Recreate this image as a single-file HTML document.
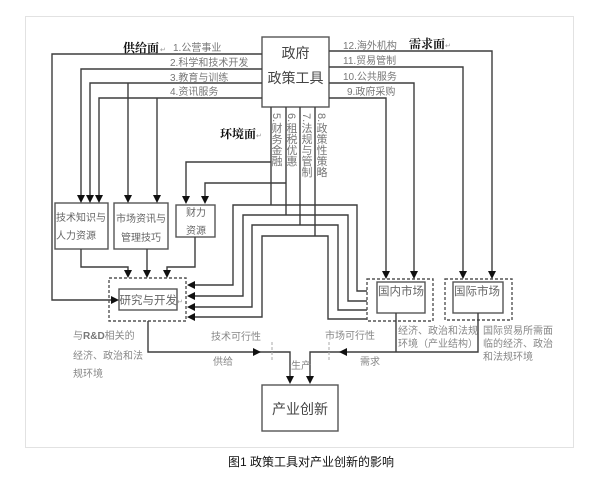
<!DOCTYPE html>
<html><head><meta charset="utf-8">
<style>
html,body{margin:0;padding:0;background:#fff;}
#wrap{position:relative;width:602px;height:489px;overflow:hidden;background:#fff;}
svg{position:absolute;left:0;top:0;}
.v{position:absolute;writing-mode:vertical-rl;font-family:"Liberation Sans","Noto Sans CJK SC",sans-serif;font-size:11px;line-height:11px;color:#777;white-space:nowrap;}
</style></head>
<body><div id="wrap">
<svg width="602" height="489" viewBox="0 0 602 489" xmlns="http://www.w3.org/2000/svg" font-family="Liberation Sans, Noto Sans CJK SC, sans-serif">
<rect x="25.5" y="16.5" width="548" height="431" fill="none" stroke="#e2e2e2" stroke-width="1"/>

<g fill="none" stroke="#3d3d3d" stroke-width="1.4">
<!-- government box -->
<rect x="262" y="37" width="67" height="70" stroke="#555"/>
<!-- supply lines -->
<polyline points="262,54 52,54 52,300 112,300"/>
<polyline points="262,69 81,69 81,196"/>
<polyline points="262,83 90,83 90,196"/>
<polyline points="262,98 99,98 99,196"/>
<line x1="128" y1="83" x2="128" y2="196"/>
<line x1="157" y1="98" x2="157" y2="196"/>
<!-- demand lines -->
<polyline points="329,51 492,51 492,272"/>
<polyline points="329,67 463,67 463,272"/>
<polyline points="329,83 414,83 414,272"/>
<polyline points="329,98 386,98 386,272"/>
<!-- environment lines -->
<line x1="271" y1="107" x2="271" y2="205"/>
<line x1="286" y1="107" x2="286" y2="215"/>
<line x1="300" y1="107" x2="300" y2="225"/>
<line x1="315" y1="107" x2="315" y2="236"/>
<polyline points="271,162 186,162 186,197"/>
<polyline points="286,183 205,183 205,197"/>
<polyline points="194,285 233,285 233,205 357,205 357,291 367,291"/>
<polyline points="194,296 243,296 243,215 348,215 348,301 367,301"/>
<polyline points="194,307 252,307 252,225 338,225 338,310 367,310"/>
<polyline points="194,317 262,317 262,236 328,236 328,319 367,319"/>
<!-- boxes -->
<rect x="55" y="203" width="53" height="46" stroke="#555"/>
<rect x="114" y="203" width="54" height="46" stroke="#555"/>
<rect x="176" y="205" width="39" height="32" stroke="#555"/>
<!-- boxes to R&D -->
<polyline points="81,249 81,267 128,267 128,271"/>
<line x1="147" y1="249" x2="147" y2="271"/>
<polyline points="195,237 195,267 167,267 167,271"/>
<!-- R&D -->
<rect x="109" y="278" width="77" height="43" stroke="#555" stroke-dasharray="3,2"/>
<rect x="119" y="289" width="58" height="21" stroke="#555"/>
<!-- markets -->
<rect x="367" y="279" width="66" height="42" stroke="#555" stroke-dasharray="3,2"/>
<rect x="377" y="282" width="48" height="31" stroke="#555"/>
<rect x="445" y="279" width="67" height="41" stroke="#555" stroke-dasharray="3,2"/>
<rect x="453" y="282" width="50" height="31" stroke="#555"/>
<!-- bottom flows -->
<polyline points="148,321 148,352 290,352 290,377"/>
<polyline points="396,313 396,352"/>
<polyline points="478,313 478,352 310,352 310,377"/>
<!-- innovation box -->
<rect x="262" y="385" width="76" height="46" stroke="#555"/>
</g>
<g stroke="#aaa" stroke-width="1" stroke-dasharray="3,2">
<line x1="272" y1="342" x2="272" y2="362"/>
<line x1="329" y1="342" x2="329" y2="362"/>
</g>

<!-- arrowheads -->
<g fill="#111">
<polygon points="77,195 85,195 81,203"/>
<polygon points="86,195 94,195 90,203"/>
<polygon points="95,195 103,195 99,203"/>
<polygon points="124,195 132,195 128,203"/>
<polygon points="153,195 161,195 157,203"/>
<polygon points="182,196 190,196 186,204"/>
<polygon points="201,196 209,196 205,204"/>
<polygon points="124,270 132,270 128,278"/>
<polygon points="143,270 151,270 147,278"/>
<polygon points="163,270 171,270 167,278"/>
<polygon points="382,271 390,271 386,279"/>
<polygon points="410,271 418,271 414,279"/>
<polygon points="459,271 467,271 463,279"/>
<polygon points="488,271 496,271 492,279"/>
<polygon points="286,376 294,376 290,384"/>
<polygon points="306,376 314,376 310,384"/>
<polygon points="195,281 195,289 187,285"/>
<polygon points="195,292 195,300 187,296"/>
<polygon points="195,303 195,311 187,307"/>
<polygon points="195,313 195,321 187,317"/>
<polygon points="111,296 111,304 119,300"/>
<polygon points="253,348 253,356 261,352"/>
<polygon points="347,348 347,356 339,352"/>
</g>

<!-- government text -->
<g fill="#444" font-size="14" text-anchor="middle">
<text x="295.5" y="58">政府</text>
<text x="295.5" y="83">政策工具</text>
</g>

<!-- headings -->
<g font-family="Liberation Serif, Noto Serif CJK SC, serif" font-weight="bold" font-size="12" fill="#111">
<text x="123" y="52">供给面</text>
<text x="409" y="48">需求面</text>
<text x="220" y="138">环境面</text>
</g>
<g font-size="7" fill="#999">
<text x="160" y="52">↵</text>
<text x="445" y="48">↵</text>
<text x="256" y="138">↵</text>
<text x="177" y="304">↵</text>
</g>

<!-- policy labels -->
<g font-size="10" fill="#777">
<text x="173" y="51">1.公营事业</text>
<text x="170" y="66">2.科学和技术开发</text>
<text x="170" y="81">3.教育与训练</text>
<text x="170" y="95">4.资讯服务</text>
<text x="343" y="49">12.海外机构</text>
<text x="343" y="64">11.贸易管制</text>
<text x="343" y="80">10.公共服务</text>
<text x="347" y="95">9.政府采购</text>
</g>

<!-- box texts -->
<g font-size="10" fill="#666">
<text x="56" y="221">技术知识与</text>
<text x="56" y="239">人力资源</text>
<text x="141" y="222" text-anchor="middle">市场资讯与</text>
<text x="141" y="241" text-anchor="middle">管理技巧</text>
<text x="196" y="216" text-anchor="middle">财力</text>
<text x="196" y="234" text-anchor="middle">资源</text>
</g>
<g font-size="11.5" fill="#666">
<text x="119.5" y="304">研究与开发</text>
<text x="378" y="295">国内市场</text>
<text x="454" y="295">国际市场</text>
</g>
<text x="300" y="414" text-anchor="middle" font-size="14" fill="#444">产业创新</text>

<!-- bottom labels -->
<g font-size="10" fill="#888">
<text x="73" y="339">与<tspan font-weight="bold" fill="#777">R&amp;D</tspan>相关的</text>
<text x="73" y="359">经济、政治和法</text>
<text x="73" y="377">规环境</text>
<text x="211" y="340">技术可行性</text>
<text x="213" y="365">供给</text>
<text x="291" y="369">生产</text>
<text x="325" y="339">市场可行性</text>
<text x="360" y="365">需求</text>
<text x="398" y="334">经济、政治和法规</text>
<text x="398" y="347">环境（产业结构）</text>
<text x="483" y="334">国际贸易所需面</text>
<text x="483" y="347">临的经济、政治</text>
<text x="483" y="360">和法规环境</text>
</g>

<!-- caption -->
<text x="228" y="466" font-size="12" fill="#111">图1  政策工具对产业创新的影响</text>
</svg>

<div class="v" style="left:270px;top:113px;">5.财务金融</div>
<div class="v" style="left:285px;top:113px;">6.租税优惠</div>
<div class="v" style="left:300px;top:113px;">7.法规与管制</div>
<div class="v" style="left:315px;top:113px;">8.政策性策略</div>
</div></body></html>
